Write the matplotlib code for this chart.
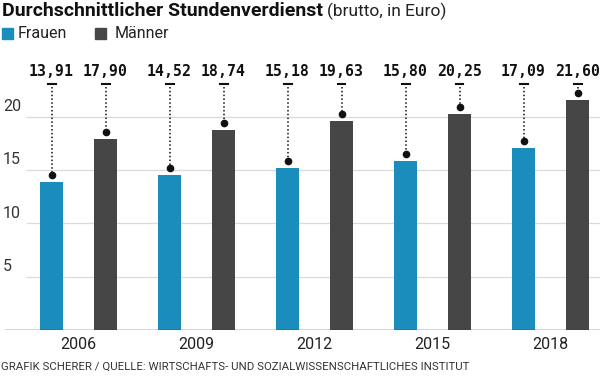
import matplotlib
matplotlib.use('Agg')
import matplotlib.pyplot as plt
from matplotlib.patches import Rectangle

# data
years = ['2006', '2009', '2012', '2015', '2018']
frauen = [13.91, 14.52, 15.18, 15.80, 17.09]
maenner = [17.90, 18.74, 19.63, 20.25, 21.60]
labels_f = ['13,91', '14,52', '15,18', '15,80', '17,09']
labels_m = ['17,90', '18,74', '19,63', '20,25', '21,60']
yticks = [5, 10, 15, 20]

blue = '#1a8dbd'
grey = '#464646'
narrow = ['Roboto', 'DejaVu Sans']

W, H = 600, 377
fig = plt.figure(figsize=(6, 3.77), dpi=100)
fig.patch.set_facecolor('white')

# axes from px x=5..600, y=60..330 (from top)
ax = fig.add_axes([5 / W, (H - 330) / H, 595 / W, 270 / H])
ax.set_xlim(-(78.5 - 5) / 118, (600 - 78.5) / 118)
ax.set_ylim(0, 270 / 10.67)
ax.axis('off')

x = list(range(len(years)))
bw = 23 / 118
off = 27 / 118

for v in yticks:
    ax.axhline(v, xmin=22 / 595, xmax=1, color='#d9d9d9', lw=0.9, zorder=0)
    ax.text(-(78.5 - 3) / 118, v + 0.25, str(v), fontsize=11.5, color='#333333',
            family=narrow, ha='left', va='bottom')

ax.axhline(0, color='#333333', lw=1.0, zorder=3)

ax.bar([i - off for i in x], frauen, width=bw, color=blue, zorder=2)
ax.bar([i + off for i in x], maenner, width=bw, color=grey, zorder=2)

y_lab = (330 - 72) / 10.67
y_dash = (330 - 84) / 10.67
y_top = (330 - 87) / 10.67
for i in x:
    for xc, v, lab in [(i - off, frauen[i], labels_f[i]), (i + off, maenner[i], labels_m[i])]:
        ax.text(xc, y_lab, lab, ha='center', va='center', fontsize=10.7,
                fontweight='bold', family='DejaVu Sans Mono', color='#111111')
        ax.plot([xc - 4 / 118, xc + 4 / 118], [y_dash, y_dash], color='#111111',
                lw=1.5, clip_on=False)
        ax.plot([xc, xc], [y_top, v + 0.65], color='#111111', lw=1.1,
                linestyle=(0, (1, 1.5)), clip_on=False)
        ax.plot(xc, v + 0.65, 'o', color='#111111', ms=4.5, clip_on=False)
    ax.text(i, -1.4, years[i], ha='center', va='center', fontsize=11.5,
            family=narrow, color='#222222')

# title
t1 = fig.text(2 / W, 1 - 11 / H, 'Durchschnittlicher Stundenverdienst', fontsize=14,
              fontweight='bold', family=narrow, va='center', ha='left', color='#111111')
fig.canvas.draw()
bb = t1.get_window_extent()
fig.text(bb.x1 / W + 4 / W, 1 - 11 / H, '(brutto, in Euro)', fontsize=12.5,
         family=narrow, va='center', ha='left', color='#222222')

# legend
fig.patches.append(Rectangle((2 / W, 1 - 39 / H), 11 / W, 11 / H, color=blue,
                             transform=fig.transFigure, figure=fig))
fig.text(18 / W, 1 - 33 / H, 'Frauen', fontsize=11.5, family=narrow, va='center',
         ha='left', color='#222222')
fig.patches.append(Rectangle((95 / W, 1 - 39 / H), 11 / W, 11 / H, color=grey,
                             transform=fig.transFigure, figure=fig))
fig.text(115 / W, 1 - 33 / H, 'Männer', fontsize=11.5, family=narrow, va='center',
         ha='left', color='#222222')

# source
fig.text(1 / W, 1 - 367 / H,
         'GRAFIK SCHERER / QUELLE: WIRTSCHAFTS- UND SOZIALWISSENSCHAFTLICHES INSTITUT',
         fontsize=8.2, family=narrow, va='center', ha='left', color='#333333')

fig.savefig('out.png', dpi=100)
